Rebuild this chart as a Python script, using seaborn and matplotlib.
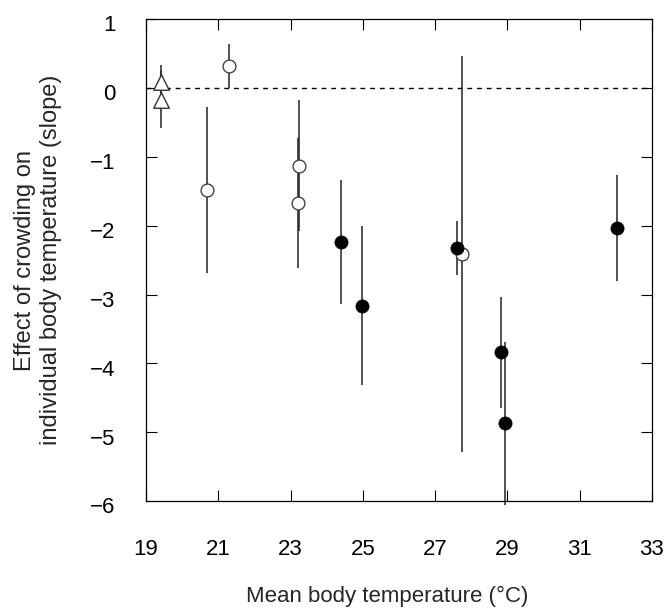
import numpy as np
import pandas as pd
import matplotlib
matplotlib.use("Agg")
import matplotlib.pyplot as plt
import matplotlib.transforms as mtransforms
import seaborn as sns

# values
temperature = [19.4, 19.4, 21.3, 20.7, 23.23, 23.2, 27.74,
               24.4, 24.98, 27.6, 28.82, 28.93, 32.03]
slope = [0.08, -0.17, 0.32, -1.48, -1.13, -1.67, -2.41,
         -2.24, -3.16, -2.32, -3.84, -4.87, -2.04]
slope_err = [0.25, 0.41, 0.32, 1.2, 0.95, 0.94, 2.87,
             0.9, 1.15, 0.39, 0.81, 1.18, 0.77]
group = ["triangle", "triangle", "open", "open", "open", "open", "open",
         "filled", "filled", "filled", "filled", "filled", "filled"]

x_ticks = [19, 21, 23, 25, 27, 29, 31, 33]
y_ticks = [-6, -5, -4, -3, -2, -1, 0, 1]

df = pd.DataFrame({"temp": temperature, "slope": slope,
                   "err": slope_err, "group": group})

sns.set_theme(style="ticks")
plt.rcParams["font.family"] = ["Liberation Sans", "DejaVu Sans"]

fig = plt.figure(figsize=(6.7, 6.12), dpi=100)
ax = fig.add_axes([0.218, 0.181, 0.755, 0.788])

ax.axhline(0, color="black", lw=1.0, ls=(0, (3.5, 3.5)), zorder=1)

eb = ax.errorbar(df["temp"], df["slope"], yerr=df["err"], fmt="none",
                 ecolor="#222222", elinewidth=1.1, capsize=0, zorder=2)
for coll in eb.lines[2]:
    coll.set_clip_on(False)

styles = {
    "triangle": dict(marker="^", s=125, color="white", edgecolor="#333333", linewidth=1.0),
    "open": dict(marker="o", s=85, color="white", edgecolor="#444444", linewidth=1.0),
    "filled": dict(marker="o", s=90, color="black", edgecolor="black", linewidth=0.5),
}
for name in ["triangle", "open", "filled"]:
    sub = df[df["group"] == name]
    sns.scatterplot(data=sub, x="temp", y="slope", ax=ax, zorder=3,
                    legend=False, **styles[name])

ax.set_xlim(19, 33)
ax.set_ylim(-6, 1)
ax.set_xticks(x_ticks)
ax.set_yticks(y_ticks)
ax.set_yticklabels([str(v).replace("-", "\u2212") for v in y_ticks])

ax.tick_params(axis="both", direction="in", length=8, width=0.8,
               top=True, right=True, labelsize=16, colors="black")
ax.tick_params(axis="x", pad=27)
ax.tick_params(axis="y", pad=22)
for sp in ax.spines.values():
    sp.set_visible(True)
    sp.set_linewidth(0.9)
    sp.set_color("black")

# y tick labels sit a little below their ticks in the reference
shift = mtransforms.ScaledTranslation(0, -3 / 72, fig.dpi_scale_trans)
for lab in ax.get_yticklabels():
    lab.set_transform(lab.get_transform() + shift)

ax.set_xlabel("Mean body temperature (\u00b0C)", fontsize=16)
ax.xaxis.set_label_coords(0.476, -0.176)
ax.xaxis.label.set_va("top")
ax.set_ylabel("Effect of crowding on\nindividual body temperature (slope)",
              fontsize=17, linespacing=1.25)
ax.yaxis.set_label_coords(-0.166, 0.5)

fig.savefig("out.png", dpi=100)
